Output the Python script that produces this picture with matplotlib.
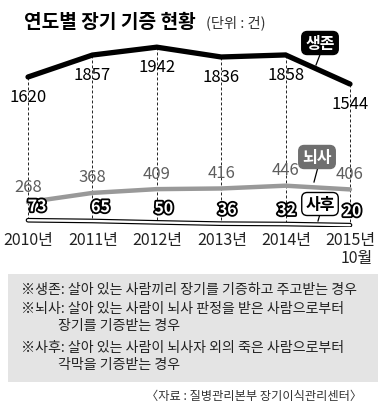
import matplotlib
matplotlib.use("Agg")
import matplotlib.pyplot as plt
import matplotlib.patheffects as pe
from matplotlib.patches import Rectangle

plt.rcParams['font.family'] = ['Noto Sans CJK KR', 'DejaVu Sans']

# ---- data ----
years = ["2010년", "2011년", "2012년", "2013년", "2014년", "2015년"]
living = [1620, 1857, 1942, 1836, 1858, 1544]      # 생존
braindead = [268, 368, 409, 416, 446, 406]        # 뇌사
deceased = [73, 65, 50, 36, 32, 20]               # 사후
series_names = ["생존", "뇌사", "사후"]
title = "연도별 장기 기증 현황"
unit = "(단위 : 건)"
notes = [
    ("※생존: 살아 있는 사람끼리 장기를 기증하고 주고받는 경우", False),
    ("※뇌사: 살아 있는 사람이 뇌사 판정을 받은 사람으로부터", False),
    ("장기를 기증받는 경우", True),
    ("※사후: 살아 있는 사람이 뇌사자 외의 죽은 사람으로부터", False),
    ("각막을 기증받는 경우", True),
]
source = "〈자료 : 질병관리본부 장기이식관리센터〉"

W, H = 385, 410
fig = plt.figure(figsize=(W / 100, H / 100), dpi=100)
fig.patch.set_facecolor("white")

def fx(x):
    return x / W

def fy(y):
    return 1 - y / H

# chart axes: x=0 -> px 28, x=5 -> px 350 ; y=0 -> px 228, y=2000 -> px 42.8
ax = fig.add_axes([fx(8.7), fy(228), (369.3 - 8.7) / W, (228 - 42.8) / H])
ax.set_xlim(-0.3, 5.3)
ax.set_ylim(0, 2000)
ax.axis("off")
xs = list(range(len(years)))

num_font = ['Liberation Sans Narrow', 'Noto Sans CJK KR', 'DejaVu Sans']

# dashed guides
for x, v in zip(xs, living):
    ax.plot([x, x], [v, deceased[x]], color="black", lw=0.6,
            ls=(0, (3.5, 2.5)), zorder=1)

# lines
ax.plot(xs, living, color="black", lw=3.8, solid_capstyle="round",
        solid_joinstyle="miter", zorder=3)
ax.plot(xs, braindead, color="#999999", lw=3.2, solid_capstyle="round",
        zorder=3)
ax.plot(xs, deceased, color="black", lw=3.4, solid_capstyle="round", zorder=3)
ax.plot(xs, deceased, color="white", lw=1.7, solid_capstyle="round", zorder=4)

# labels
for x, v in zip(xs, living):
    ax.annotate(f"{v}", (x, v), xytext=(0, -14), textcoords="offset points",
                ha="center", va="center", fontsize=12, family=num_font,
                color="black", zorder=5)
for x, v in zip(xs, braindead):
    ax.annotate(f"{v}", (x, v), xytext=(0, 11.5), textcoords="offset points",
                ha="center", va="center", fontsize=12, family=num_font,
                color="#5e5e5e", zorder=5)
dx_dec = [9, 8, 7, 6, 1, 2]
for x, v, d in zip(xs, deceased, dx_dec):
    ax.annotate(f"{v}", (x, v), xytext=(d * 0.72, 10), textcoords="offset points",
                ha="center", va="center", fontsize=11.5, family=num_font,
                fontweight="bold", color="white", zorder=6,
                path_effects=[pe.withStroke(linewidth=2.6, foreground="black")])

# x tick labels
for x, lab in zip(xs, years):
    ax.annotate(lab, (x, 0), xytext=(0.5, -9), textcoords="offset points",
                ha="center", va="center", fontsize=11.5, family=num_font,
                color="#222222", annotation_clip=False)
ax.annotate("10월", (5, 0), xytext=(5, -22), textcoords="offset points",
            ha="center", va="center", fontsize=11.5, family=num_font,
            color="#222222", annotation_clip=False)

# callouts
def callout(text, cx, cy, p0, p1, fc, tc, ec):
    fig.text(fx(cx), fy(cy), text, ha="center", va="center", fontsize=11.5,
             fontweight="bold", color=tc, zorder=10,
             bbox=dict(boxstyle="round,pad=0.22,rounding_size=0.35", fc=fc,
                       ec=ec, lw=1.0))
    fig.add_artist(plt.Line2D([fx(p0[0]), fx(p1[0])], [fy(p0[1]), fy(p1[1])],
                              color="black", lw=0.9, zorder=9))

callout(series_names[0], 320, 44, (321, 53), (316, 66), "black", "white", "black")
callout(series_names[1], 317, 158, (318, 168), (314, 183), "#6f6f6f", "white", "#6f6f6f")
callout(series_names[2], 320, 205, (320, 215), (318, 222), "white", "black", "black")

# title
fig.text(fx(24), fy(22), title, ha="left", va="center", fontsize=13.8,
         fontweight="bold", color="black")
fig.text(fx(206), fy(23), unit, ha="left", va="center", fontsize=10.3,
         color="#333333")

# notes box
fig.patches.append(Rectangle((fx(8), fy(383)), (378 - 8) / W, (383 - 275) / H,
                             transform=fig.transFigure, fc="#e4e4e4",
                             ec="none", zorder=0))
ys = [290, 309, 326, 348, 365]
for (t, indent), y in zip(notes, ys):
    fig.text(fx(58 if indent else 21), fy(y), t, ha="left", va="center",
             fontsize=10.1, color="#222222")

fig.text(fx(362), fy(396), source, ha="right", va="center", fontsize=8.8,
         color="#333333")

fig.savefig("out.png", dpi=100)
